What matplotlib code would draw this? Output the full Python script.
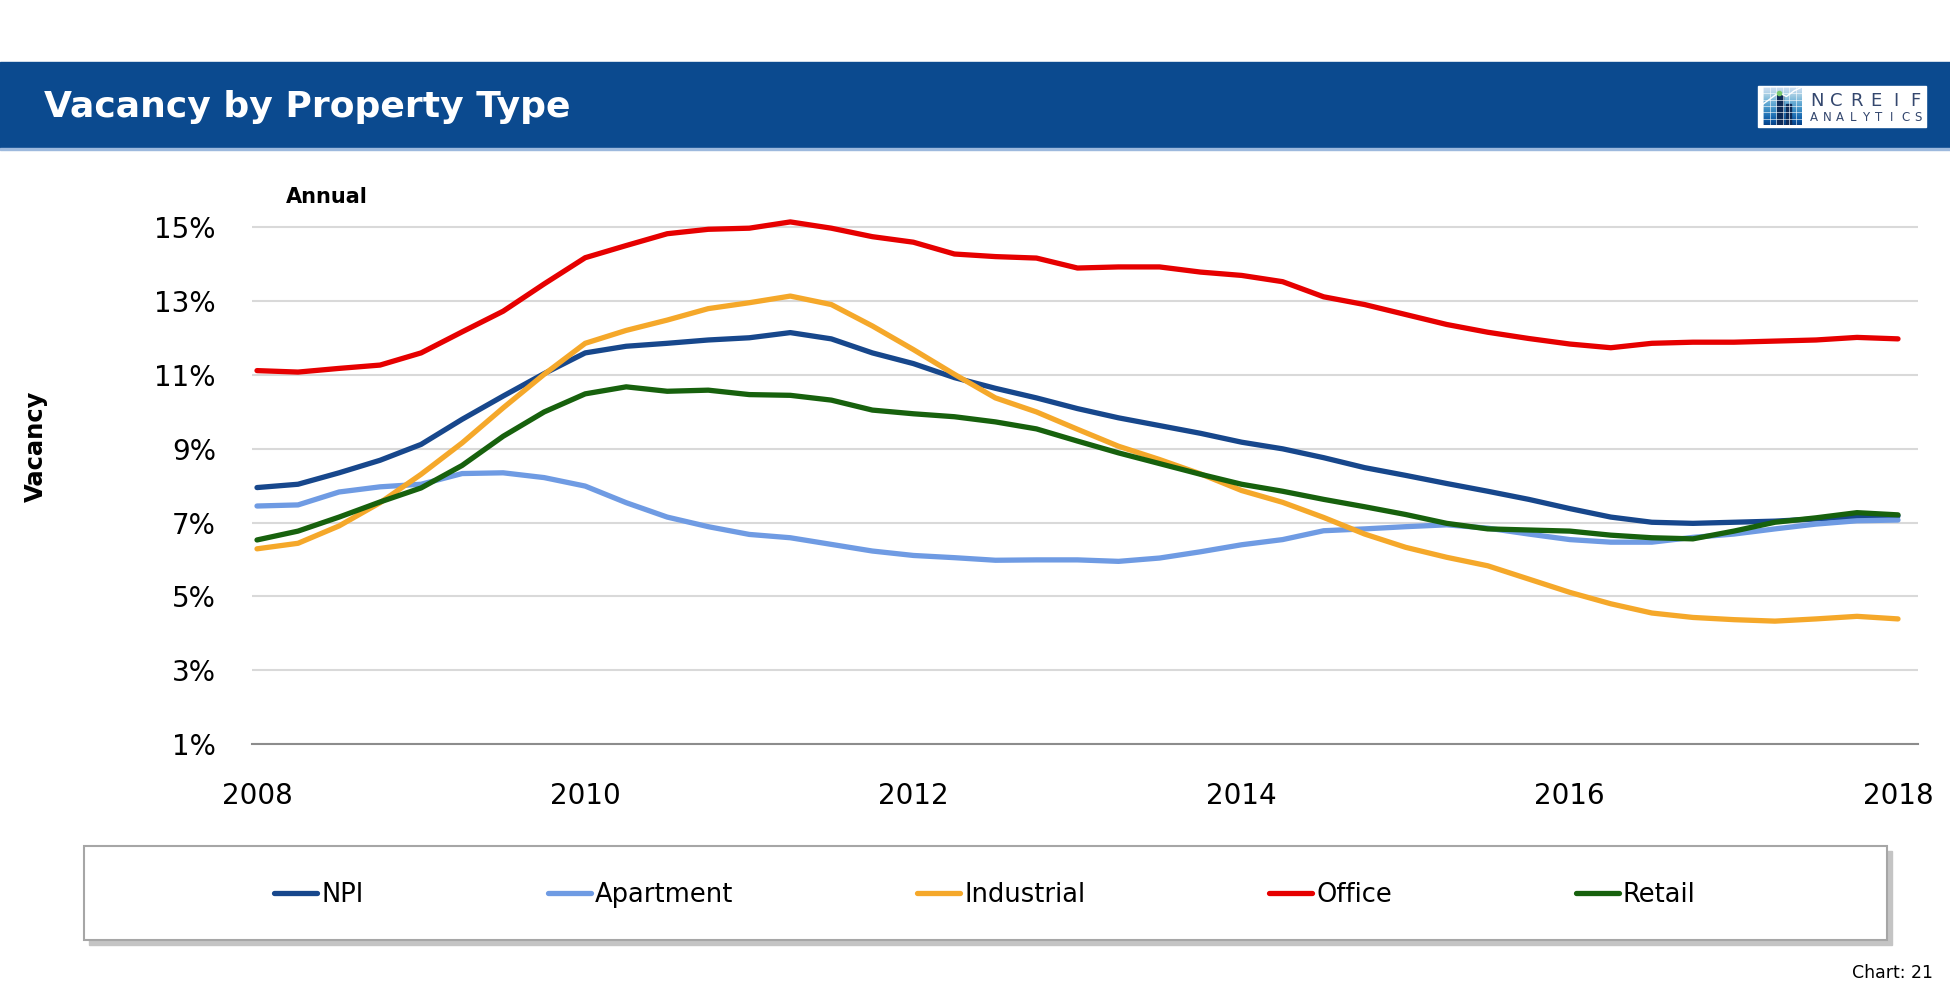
import numpy as np
import matplotlib.pyplot as plt
from matplotlib.patches import Rectangle
from matplotlib import font_manager

# quarterly observations, 2008Q1 .. 2018Q1
quarters = 2008 + np.arange(41) / 4.0

npi = [7.95, 8.04, 8.35, 8.69, 9.12, 9.80, 10.43, 11.04, 11.60, 11.78,
       11.86, 11.95, 12.01, 12.15, 11.98, 11.60, 11.31, 10.93, 10.64, 10.38,
       10.09, 9.84, 9.63, 9.42, 9.18, 9.00, 8.76, 8.49, 8.28, 8.06,
       7.85, 7.63, 7.38, 7.15, 7.01, 6.98, 7.01, 7.04, 7.10, 7.16, 7.18]
apartment = [7.45, 7.48, 7.83, 7.97, 8.04, 8.33, 8.35, 8.22, 7.99, 7.54,
             7.15, 6.89, 6.68, 6.59, 6.41, 6.23, 6.11, 6.05, 5.98, 5.99,
             5.99, 5.95, 6.04, 6.21, 6.40, 6.54, 6.78, 6.83, 6.89, 6.94,
             6.85, 6.69, 6.54, 6.47, 6.47, 6.60, 6.69, 6.83, 6.96, 7.05, 7.07]
industrial = [6.29, 6.44, 6.91, 7.54, 8.31, 9.16, 10.11, 11.02, 11.86, 12.21,
              12.49, 12.80, 12.96, 13.14, 12.91, 12.33, 11.69, 11.02, 10.38, 10.00,
              9.53, 9.07, 8.71, 8.32, 7.87, 7.55, 7.14, 6.69, 6.33, 6.06,
              5.83, 5.47, 5.11, 4.80, 4.55, 4.43, 4.37, 4.33, 4.39, 4.46, 4.39]
office = [11.12, 11.08, 11.18, 11.27, 11.60, 12.17, 12.73, 13.47, 14.18, 14.51,
          14.83, 14.95, 14.98, 15.15, 14.98, 14.75, 14.60, 14.28, 14.21, 14.17,
          13.90, 13.93, 13.93, 13.79, 13.70, 13.53, 13.12, 12.91, 12.64, 12.37,
          12.16, 11.99, 11.84, 11.74, 11.86, 11.89, 11.89, 11.92, 11.95, 12.02, 11.98]
retail = [6.53, 6.77, 7.15, 7.56, 7.94, 8.55, 9.34, 10.00, 10.49, 10.68,
          10.56, 10.59, 10.47, 10.45, 10.32, 10.05, 9.95, 9.87, 9.73, 9.54,
          9.21, 8.89, 8.60, 8.31, 8.04, 7.85, 7.63, 7.43, 7.22, 6.98,
          6.83, 6.80, 6.77, 6.66, 6.59, 6.56, 6.77, 7.01, 7.13, 7.27, 7.21]

series_names = ['NPI', 'Apartment', 'Industrial', 'Office', 'Retail']
series_colors = ['#17478C', '#6F9BE3', '#F5A82A', '#E60000', '#17610D']
year_ticks = [2008, 2010, 2012, 2014, 2016, 2018]
pct_ticks = [1, 3, 5, 7, 9, 11, 13, 15]

W, H = 1950.0, 1000.0


def fx(px):
    return px / W


def fy(py):
    return 1 - py / H


fig = plt.figure(figsize=(19.5, 10), dpi=100)
fig.patch.set_facecolor('white')

# header band
fig.patches.append(Rectangle((0, fy(148)), 1, 86 / H, transform=fig.transFigure,
                             color='#0B4A8F', zorder=0))
fig.patches.append(Rectangle((0, fy(150)), 1, 2 / H, transform=fig.transFigure,
                             color='#9DB9DD', zorder=0))
fig.text(fx(44), fy(117), 'Vacancy by Property Type', color='white',
         fontsize=26, fontweight='bold', va='baseline')

# logo
fig.patches.append(Rectangle((fx(1758), fy(127)), 168 / W, 41 / H,
                             transform=fig.transFigure, color='white', zorder=1))
lg = fig.add_axes([fx(1763), fy(125), 39 / W, 38 / H], zorder=3)
grad = np.linspace(0, 1, 50).reshape(-1, 1)
lg.imshow(grad, cmap='Blues', vmin=-0.3, vmax=1.1, aspect='auto', extent=(0, 1, 0, 1))
for g in np.linspace(0, 1, 7):
    lg.axhline(g, color='white', lw=0.6, alpha=0.7)
    lg.axvline(g, color='white', lw=0.6, alpha=0.7)
lg.fill([0.35, 0.5, 0.5, 0.35], [0, 0, 0.8, 0.8], color='#0E2A57')
lg.fill([0.58, 0.72, 0.72, 0.58], [0, 0, 0.55, 0.55], color='#0E2A57')
lg.plot([0, 0.2, 0.4, 0.6, 0.8, 1], [0.55, 0.7, 0.85, 0.75, 0.9, 1.0], color='white', lw=1)
lg.plot([0.4], [0.85], 'o', color='#7BC96F', ms=3)
lg.set_xlim(0, 1)
lg.set_ylim(0, 1)
lg.axis('off')
for k, ch in enumerate('NCREIF'):
    fig.text(fx(1817 + k * 19.6), fy(106), ch, fontsize=13, color='#34476E',
             ha='center', va='baseline', zorder=4)
for k, ch in enumerate('ANALYTICS'):
    fig.text(fx(1814 + k * 13.0), fy(121), ch, fontsize=8.5, color='#34476E',
             ha='center', va='baseline', zorder=4)

# main chart
ax = fig.add_axes([fx(252), fy(744), (1918 - 252) / W, (744 - 209) / H])
for vals, name, col in zip([npi, apartment, industrial, office, retail],
                           series_names, series_colors):
    ax.plot(quarters, vals, color=col, lw=3.8, label=name,
            solid_capstyle='round', solid_joinstyle='round')

ax.set_xlim(2008 - 5 / 164.1, 2018 + 20 / 164.1)
ax.set_ylim(1, 15.5)
ax.set_xticks(year_ticks)
ax.set_xticklabels([str(y) for y in year_ticks])
ax.set_yticks(pct_ticks)
ax.set_yticklabels([f'{v}%' for v in pct_ticks])
ax.yaxis.grid(True, color='#D9D9D9', lw=1.5)
ax.set_axisbelow(True)
for s in ['top', 'right', 'left']:
    ax.spines[s].set_visible(False)
ax.spines['bottom'].set_color('#8C8C8C')
ax.spines['bottom'].set_linewidth(1.5)
ax.tick_params(axis='both', length=0, labelsize=20)
ax.tick_params(axis='y', pad=26)
ax.tick_params(axis='x', pad=27)

fig.text(fx(286), fy(203), 'Annual', fontsize=15, fontweight='bold', va='baseline')

names = {f.name for f in font_manager.fontManager.ttflist}
if 'Liberation Sans Narrow' in names:
    fig.text(fx(36), fy(446), 'Vacancy', rotation=90, ha='center', va='center',
             fontweight='bold', family='Liberation Sans Narrow', fontsize=24)
else:
    fig.text(fx(36), fy(446), 'Vacancy', rotation=90, ha='center', va='center',
             fontweight='bold', fontsize=17.5)

# legend box with shadow
fig.patches.append(Rectangle((fx(89), fy(945)), 1803 / W, 94 / H,
                             transform=fig.transFigure, color='#C4C4C4', zorder=0))
fig.patches.append(Rectangle((fx(84), fy(940)), 1803 / W, 94 / H,
                             transform=fig.transFigure, facecolor='white',
                             edgecolor='#A6A6A6', lw=1.5, zorder=0))
handles, labels = ax.get_legend_handles_labels()
fig.legend(handles, labels, loc='center', bbox_to_anchor=(fx(985), fy(895)),
           ncol=5, frameon=False, fontsize=18.5, handlelength=1.67,
           handletextpad=0.16, columnspacing=7.16)

fig.text(fx(1933), fy(978), 'Chart: 21', fontsize=12.5, ha='right', va='baseline')

fig.savefig('out.png', dpi=100)
